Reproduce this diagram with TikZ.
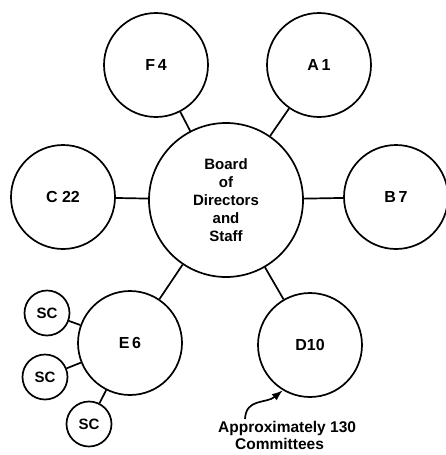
\documentclass[tikz,border=0pt]{standalone}
\usepackage{fontspec}
\setmainfont{Liberation Sans}
\usetikzlibrary{arrows.meta}
\begin{document}
\begin{tikzpicture}[x=1pt,y=-1pt,
  lbl/.style={font=\fontsize{16}{18}\selectfont\bfseries},
  unit/.style={circle,draw,line width=1.7pt,inner sep=0pt,minimum size=104pt,lbl},
  sub/.style={circle,draw,line width=1.7pt,inner sep=0pt,minimum size=45pt,lbl},
  link/.style={line width=1.7pt}]
\useasboundingbox (0,0) rectangle (446,455);

% central body
\node[unit,minimum size=154pt,align=center,font=\fontsize{15}{18}\selectfont\bfseries] (board) at (226,200)
  {Board\\of\\Directors\\and\\Staff};

% divisions
\node[unit] (f4)  at (156,65)  {F\,4};
\node[unit] (a1)  at (319,65)  {A\,1};
\node[unit] (c22) at (63,197)  {C 22};
\node[unit] (b7)  at (396,197) {B\,7};
\node[unit] (e6)  at (130,343) {E\,6};
\node[unit] (d10) at (310,345) {D10};

% subcommittees
\node[sub,font=\fontsize{15}{18}\selectfont\bfseries] (sc1) at (47,313) {SC};
\node[sub,font=\fontsize{15}{18}\selectfont\bfseries] (sc2) at (45,377) {SC};
\node[sub,font=\fontsize{15}{18}\selectfont\bfseries] (sc3) at (89,424) {SC};

% spokes
\foreach \n in {f4,a1,c22,b7,e6,d10} \draw[link] (board) -- (\n);
\foreach \n in {sc1,sc2,sc3} \draw[link] (e6) -- (\n);

% note with pointer
\node[lbl,font=\fontsize{15.5}{17}\selectfont\bfseries,align=left,anchor=north west,inner sep=0pt] (note) at (218,421)
  {Approximately 130\\\hspace*{17pt}Committees};
\coordinate (tail) at (245,419);
\draw[link,-{Latex[length=11pt,width=8pt]}] (tail) .. controls (246,398) and (266,404) .. (d10.239);
\end{tikzpicture}
\end{document}
